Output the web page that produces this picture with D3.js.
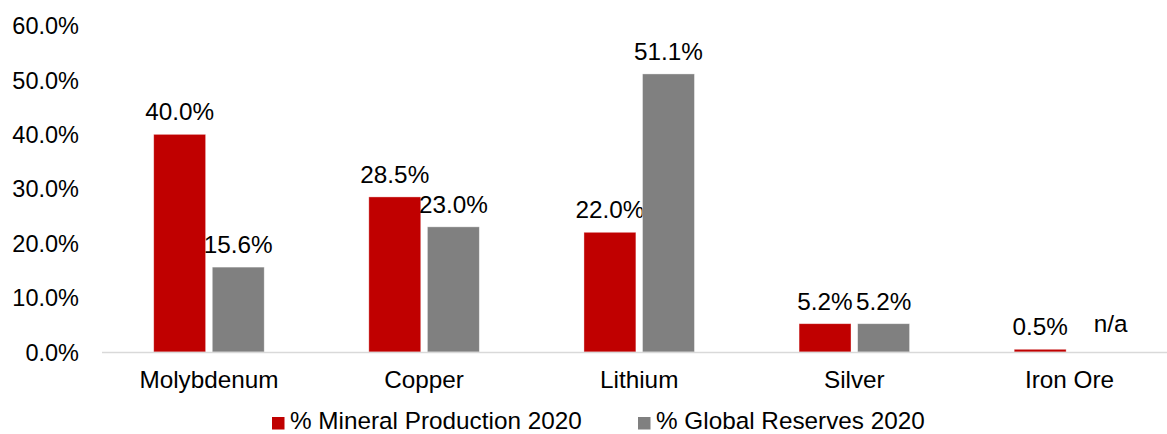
<!DOCTYPE html>
<html>
<head>
<meta charset="utf-8">
<script src="https://cdn.jsdelivr.net/npm/d3@7"></script>
<style>
  html, body { margin: 0; padding: 0; background: #fff; }
  svg { display: block; font-family: "Liberation Sans", Arial, sans-serif; }
</style>
</head>
<body>
<svg id="chart" width="1167" height="434"></svg>
<script>
const categories = ["Molybdenum", "Copper", "Lithium", "Silver", "Iron Ore"];
const production = [40.0, 28.5, 22.0, 5.2, 0.5];
const reserves = [15.6, 23.0, 51.1, 5.2, null];
const seriesNames = ["% Mineral Production 2020", "% Global Reserves 2020"];
const seriesColors = ["#C00000", "#808080"];
const yTicks = [0, 10, 20, 30, 40, 50, 60];

const svg = d3.select("#chart");
const x0 = 101.4, x1 = 1177, yBase = 352, yTop = 25.5;
const fontSize = 24.3;

const x = d3.scaleBand().domain(categories).range([x0, x1]).paddingInner(0).paddingOuter(0);
const y = d3.scaleLinear().domain([0, 60]).range([yBase, yTop]);
const barW = 49, gap = 12.5;
const sub = d3.scaleBand().domain([0, 1]).range([-(barW + gap / 2), barW + gap / 2]).paddingInner(gap / (2 * barW + gap)).paddingOuter(0);

// y-axis labels
const yAxis = d3.axisLeft(y).tickValues(yTicks).tickSize(0).tickPadding(0)
  .tickFormat(d => d3.format(".1f")(d) + "%");
const gy = svg.append("g").attr("transform", "translate(79,0)").call(yAxis);
gy.select(".domain").remove();
gy.selectAll("text").attr("font-size", 23.5).attr("fill", "#000")
  .attr("font-family", "Liberation Sans, Arial, sans-serif").attr("dy", "0.35em");

// bars
const series = [production, reserves];
series.forEach((vals, si) => {
  const g = svg.append("g");
  categories.forEach((c, i) => {
    const v = vals[i];
    const bx = x(c) + x.bandwidth() / 2 + sub(si);
    if (v !== null) {
      g.append("rect")
        .attr("x", bx).attr("width", sub.bandwidth())
        .attr("y", y(v)).attr("height", yBase - y(v))
        .attr("fill", seriesColors[si])
        .attr("stroke", "#ffffff").attr("stroke-opacity", 0.5).attr("stroke-width", 0.75);
    }
    const label = v === null ? "n/a" : v.toFixed(1) + "%";
    const ly = (v === null ? y(0) - 6 : y(v)) - 14;
    g.append("text")
      .attr("x", bx + sub.bandwidth() / 2 + (v === null ? 12 : 0))
      .attr("y", ly)
      .attr("text-anchor", "middle")
      .attr("font-size", fontSize)
      .attr("fill", "#000")
      .text(label);
  });
});

// baseline
svg.append("line").attr("x1", 102).attr("x2", 1167).attr("y1", yBase + 0.5).attr("y2", yBase + 0.5)
  .attr("stroke", "#d9d9d9").attr("stroke-width", 1.5);

// category axis
const xAxis = d3.axisBottom(x).tickSize(0).tickPadding(0);
const gx = svg.append("g").attr("transform", "translate(0,388)").call(xAxis);
gx.select(".domain").remove();
gx.selectAll("text").attr("font-size", fontSize).attr("fill", "#000")
  .attr("font-family", "Liberation Sans, Arial, sans-serif").attr("dy", 0);

// legend
const legendX = [272, 638];
seriesNames.forEach((n, i) => {
  const lg = svg.append("g").attr("transform", `translate(${legendX[i]},0)`);
  lg.append("rect").attr("x", 0).attr("y", 417).attr("width", 12.5).attr("height", 12.5).attr("fill", seriesColors[i]);
  lg.append("text").attr("x", 18).attr("y", 429).attr("font-size", fontSize).attr("fill", "#000").text(n);
});
</script>
</body>
</html>
